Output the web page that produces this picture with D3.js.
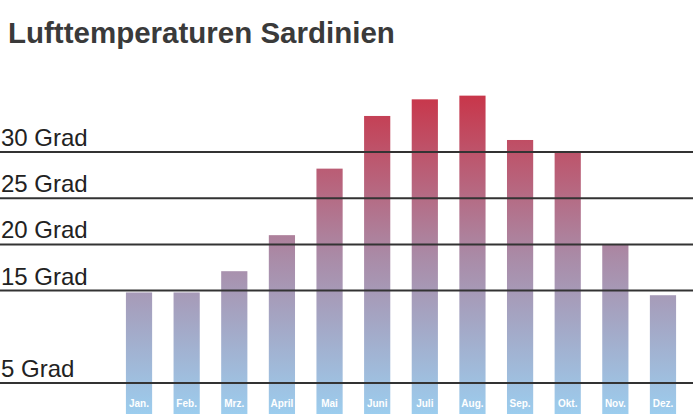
<!DOCTYPE html>
<html><head><meta charset="utf-8">
<script src="https://cdn.jsdelivr.net/npm/d3@7"></script>
<style>body{margin:0;background:#fff}</style></head>
<body><svg id="c" width="693" height="414"></svg>
<script>
const months=["Jan.","Feb.","Mrz.","April","Mai","Juni","Juli","Aug.","Sep.","Okt.","Nov.","Dez."];
const temps=[14.8,14.8,17.1,21.0,28.2,33.9,35.7,36.1,31.3,30.0,20.0,14.5];
const ticks=[5,15,20,25,30];
const tickLabels=["5 Grad","15 Grad","20 Grad","25 Grad","30 Grad"];

const svg=d3.select("#c");
const y=d3.scaleLinear().domain([5,30]).range([383,152]);
const x=d3.scaleBand().domain(months).range([115.2,686.8]).paddingInner(0.45).paddingOuter(0.225);

const g=svg.append("defs").append("linearGradient").attr("id","gr")
 .attr("gradientUnits","userSpaceOnUse").attr("x1",0).attr("x2",0).attr("y1",y(36.1)).attr("y2",414);
g.append("stop").attr("offset","0").attr("stop-color","#c8364a");
g.append("stop").attr("offset","0.5").attr("stop-color","#aa8aa6");
g.append("stop").attr("offset","1").attr("stop-color","#9ccdee");

svg.append("text").attr("x",8).attr("y",43).text("Lufttemperaturen Sardinien")
 .attr("font-family","Liberation Sans, Arial").attr("font-weight","bold").attr("font-size",29.5).attr("fill","#3a3a3a");

svg.selectAll("rect.bar").data(temps).enter().append("rect").attr("class","bar")
 .attr("x",(d,i)=>x(months[i])).attr("width",x.bandwidth())
 .attr("y",d=>y(d)).attr("height",d=>414-y(d)).attr("fill","url(#gr)");

svg.selectAll("line.grid").data(ticks).enter().append("line")
 .attr("x1",0).attr("x2",693).attr("y1",d=>y(d)).attr("y2",d=>y(d))
 .attr("stroke","#333").attr("stroke-width",2);

svg.selectAll("text.tl").data(ticks).enter().append("text")
 .attr("x",1).attr("y",d=>y(d)-6).text((d,i)=>tickLabels[i])
 .attr("font-family","Liberation Sans, Arial").attr("font-size",24).attr("fill","#222");

svg.selectAll("text.ml").data(months).enter().append("text")
 .attr("x",d=>x(d)+x.bandwidth()/2).attr("y",407).attr("text-anchor","middle").text(d=>d)
 .attr("font-family","Liberation Sans Narrow, Liberation Sans, Arial").attr("font-weight","bold")
 .attr("font-size",10).attr("fill","#fff");
</script></body></html>
